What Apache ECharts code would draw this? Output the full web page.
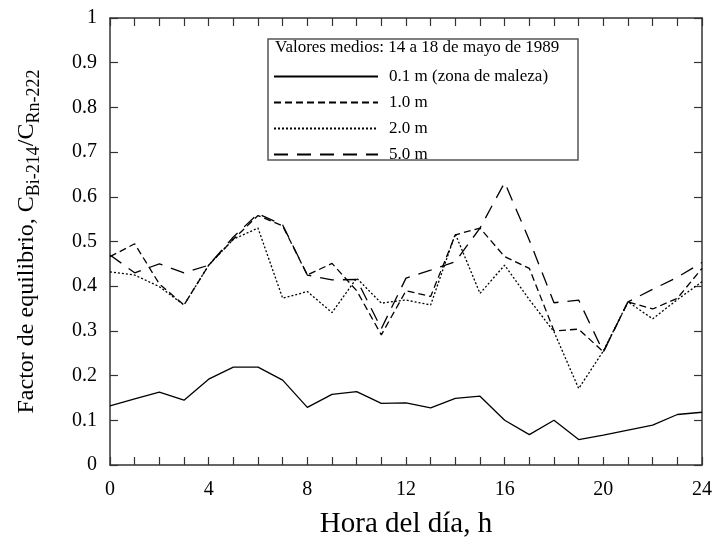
<!DOCTYPE html>
<html>
<head>
<meta charset="utf-8">
<script src="https://cdn.jsdelivr.net/npm/echarts@6/dist/echarts.min.js"></script>
<style>html,body{margin:0;padding:0;background:#fff;}#c{width:715px;height:537px;}</style>
</head>
<body>
<div id="c"></div>
<script>
var hours = [0,1,2,3,4,5,6,7,8,9,10,11,12,13,14,15,16,17,18,19,20,21,22,23,24];
var s01 = [0.132,0.148,0.163,0.145,0.192,0.219,0.219,0.19,0.129,0.158,0.164,0.138,0.139,0.128,0.149,0.154,0.1,0.068,0.1,0.057,0.067,0.078,0.089,0.113,0.118];
var s10 = [0.466,0.495,0.405,0.358,0.447,0.505,0.558,0.535,0.425,0.451,0.39,0.291,0.39,0.377,0.515,0.53,0.466,0.44,0.3,0.304,0.253,0.365,0.349,0.373,0.44];
var s20 = [0.432,0.425,0.399,0.358,0.447,0.505,0.53,0.373,0.388,0.341,0.418,0.362,0.369,0.358,0.517,0.384,0.447,0.37,0.298,0.171,0.255,0.365,0.327,0.37,0.41];
var s50 = [0.47,0.43,0.45,0.43,0.447,0.51,0.562,0.537,0.425,0.414,0.415,0.305,0.418,0.436,0.455,0.53,0.632,0.503,0.363,0.369,0.253,0.365,0.393,0.42,0.453];
var seriesNames = ['0.1 m (zona de maleza)','1.0 m','2.0 m','5.0 m'];
var legendTitle = 'Valores medios: 14 a 18 de mayo de 1989';
var xName = 'Hora del día, h';

function pairs(arr){ return hours.map(function(h,i){ return [h, arr[i]]; }); }
var FONT = 'Liberation Serif';
var AX = '#333';
function mkSeries(name, data, type){
  return {
    name: name, type: 'line', data: pairs(data), symbol: 'none',
    xAxisIndex: 0, yAxisIndex: 0,
    lineStyle: {color: '#000', width: 1.3, type: type},
    itemStyle: {color: '#000'},
    emphasis: {disabled: true}
  };
}
var chart = echarts.init(document.getElementById('c'), null, {renderer: 'canvas'});
chart.setOption({
  animation: false,
  backgroundColor: '#fff',
  grid: {left: 110, right: 13, top: 18, bottom: 72, containLabel: false, outerBoundsMode: 'none'},
  xAxis: [{
    type: 'value', min: 0, max: 24, interval: 1, position: 'bottom',
    name: xName, nameLocation: 'middle', nameGap: 45,
    nameTextStyle: {fontFamily: FONT, fontSize: 29, color: '#000'},
    axisLine: {show: true, onZero: false, lineStyle: {color: AX, width: 1.5}},
    axisTick: {show: true, inside: true, length: 8, lineStyle: {color: AX, width: 1.2}},
    axisLabel: {fontFamily: FONT, fontSize: 20, color: '#000', margin: 15,
      formatter: function(v){ return (v % 4 === 0) ? String(v) : ''; }},
    splitLine: {show: false}
  },{
    type: 'value', min: 0, max: 24, interval: 1, position: 'top',
    axisLine: {show: true, onZero: false, lineStyle: {color: AX, width: 1.5}},
    axisTick: {show: true, inside: true, length: 8, lineStyle: {color: AX, width: 1.2}},
    axisLabel: {show: false}, splitLine: {show: false}
  }],
  yAxis: [{
    type: 'value', min: 0, max: 1, interval: 0.1, position: 'left',
    name: '{a|Factor de equilibrio, C}{s|Bi-214}{a|/C}{s|Rn-222}',
    nameLocation: 'middle', nameGap: 67, nameRotate: 90,
    nameTextStyle: {fontFamily: FONT, fontSize: 24, color: '#000',
      rich: {
        a: {fontFamily: FONT, fontSize: 24, color: '#000'},
        s: {fontFamily: FONT, fontSize: 18, color: '#000', padding: [14,0,0,0]}
      }},
    axisLine: {show: true, onZero: false, lineStyle: {color: AX, width: 1.5}},
    axisTick: {show: true, inside: true, length: 8, lineStyle: {color: AX, width: 1.2}},
    axisLabel: {fontFamily: FONT, fontSize: 20, color: '#000', margin: 13},
    splitLine: {show: false}
  },{
    type: 'value', min: 0, max: 1, interval: 0.1, position: 'right',
    axisLine: {show: true, onZero: false, lineStyle: {color: AX, width: 1.5}},
    axisTick: {show: true, inside: true, length: 8, lineStyle: {color: AX, width: 1.2}},
    axisLabel: {show: false}, splitLine: {show: false}
  }],
  legend: {
    show: true, orient: 'vertical', left: 273, top: 68, padding: 0,
    itemWidth: 104, itemHeight: 14, itemGap: 9,
    itemStyle: {opacity: 0},
    textStyle: {fontFamily: FONT, fontSize: 17, color: '#000', padding: [0,0,0,6]},
    data: seriesNames,
    selectedMode: false
  },
  graphic: [
    {type: 'rect', shape: {x: 268, y: 39, width: 310, height: 121},
     style: {fill: 'none', stroke: '#555', lineWidth: 1.5}, z: 10, silent: true},
    {type: 'text', x: 275, y: 39, z: 11, silent: true,
     style: {text: legendTitle, font: '17px "Liberation Serif"', fill: '#000'}}
  ],
  series: [
    mkSeries(seriesNames[0], s01, 'solid'),
    mkSeries(seriesNames[1], s10, [7,4]),
    mkSeries(seriesNames[2], s20, [2,2]),
    mkSeries(seriesNames[3], s50, [14,9])
  ]
});
</script>
</body>
</html>
